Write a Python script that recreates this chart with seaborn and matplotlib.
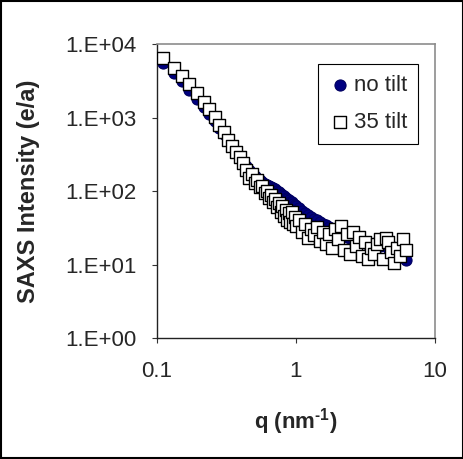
import matplotlib
matplotlib.use("Agg")
import matplotlib.pyplot as plt
import seaborn as sns
import pandas as pd
from matplotlib.patches import Rectangle

# ── data ──────────────────────────────────────────────────────────────
q = [0.111, 0.132, 0.151, 0.171, 0.195, 0.218, 0.238, 0.260, 0.281, 0.303,
     0.326, 0.348, 0.370, 0.393, 0.415, 0.437, 0.460, 0.482, 0.505, 0.527,
     0.550, 0.572, 0.595, 0.617, 0.640, 0.662, 0.685, 0.707, 0.730, 0.752,
     0.775, 0.797, 0.820, 0.842, 0.865, 0.887, 0.910, 0.932, 0.955, 0.977,
     1.00, 1.05, 1.10, 1.16, 1.22, 1.28, 1.35, 1.42, 1.49, 1.57,
     1.65, 1.73, 1.82, 1.91, 2.01, 2.11, 2.22, 2.33, 2.45, 2.57,
     2.70, 2.84, 2.98, 3.13, 3.29, 3.45, 3.63, 3.81, 4.00, 4.20,
     4.41, 4.63, 4.86, 5.11, 5.36, 5.63, 5.91, 6.20]

no_tilt = [5500, 4000, 3100, 2400, 1800, 1400, 1120, 900, 720, 590,
           480, 400, 340, 290, 250, 220, 195, 175, 160, 148,
           140, 133, 126, 121, 117, 113, 109, 105, 101, 96,
           92, 88, 85, 81, 78, 75, 72, 70, 67, 65,
           63, 58, 54, 51, 47, 45, 42, 40, 38, 36,
           34, 32, 30, 29, 27, 26, 25, 24, 23, 22.5,
           22, 21, 20, 19.5, 19, 18.5, 18, 20, 18, 21,
           19, 17, 18, 16, 15, 14, 12.5, 11.5]

tilt_35 = [6400, 4700, 3700, 2850, 2150, 1650, 1300, 1020, 790, 640,
           500, 410, 340, 290, 240, 195, 150, 170, 130, 140,
           112, 118, 95, 100, 80, 88, 70, 78, 60, 68,
           52, 62, 46, 55, 40, 50, 38, 52, 36, 45,
           33, 40, 28, 36, 23, 30, 25, 32, 21, 28,
           19, 26, 17, 30, 22, 33, 16, 26, 14, 28,
           18, 24, 13, 20, 12, 17, 14, 19, 22, 12,
           23, 20, 15, 10.5, 17, 13, 22, 16]

y_ticks = [1, 10, 100, 1000, 10000]
y_labels = ["1.E+00", "1.E+01", "1.E+02", "1.E+03", "1.E+04"]
x_ticks = [0.1, 1, 10]
x_labels = ["0.1", "1", "10"]

sns.set_theme(style="white")
plt.rcParams["font.family"] = ["Liberation Sans", "DejaVu Sans"]
plt.rcParams["mathtext.fontset"] = "custom"
plt.rcParams["mathtext.rm"] = "Liberation Sans"
plt.rcParams["mathtext.bf"] = "Liberation Sans:bold"

df_a = pd.DataFrame({"q": q, "I": no_tilt})
df_b = pd.DataFrame({"q": q, "I": tilt_35})

fig = plt.figure(figsize=(4.64, 4.59), dpi=100)
ax = fig.add_axes([0.338, 0.2636, 0.5995, 0.6404])

sns.scatterplot(data=df_a, x="q", y="I", ax=ax, marker="o", s=64,
                color="#000080", edgecolor="#000060", linewidth=0.8,
                label="no tilt", zorder=3)
sns.scatterplot(data=df_b, x="q", y="I", ax=ax, marker="s", s=72,
                color="white", edgecolor="black", linewidth=1.0,
                label="35 tilt", zorder=4)

ax.set_xscale("log")
ax.set_yscale("log")
ax.set_xlim(0.1, 10)
ax.set_ylim(1, 10000)
ax.set_xticks(x_ticks)
ax.set_xticklabels(x_labels)
ax.set_yticks(y_ticks)
ax.set_yticklabels(y_labels)
ax.minorticks_off()
ax.tick_params(axis="x", which="major", direction="out", length=3.5,
               width=0.8, color="#333333", labelsize=16, pad=13, bottom=True)
ax.tick_params(axis="y", which="major", direction="out", length=3.5,
               width=0.8, color="#333333", labelsize=16, pad=11, left=True)

for side in ["left", "bottom"]:
    ax.spines[side].set_color("#222222")
    ax.spines[side].set_linewidth(1.0)
for side in ["top", "right"]:
    ax.spines[side].set_color("#8c8c8c")
    ax.spines[side].set_linewidth(1.2)

ax.set_xlabel("q (nm$^{\\mathbf{\u2010}\\mathbf{1}}$)", fontsize=16,
              fontweight="bold")
ax.set_ylabel("SAXS Intensity (e/a)", fontsize=17, fontweight="bold")
ax.xaxis.set_label_coords(0.5, -0.23)
ax.yaxis.set_label_coords(-0.42, 0.5)

leg = ax.legend(loc="upper right", bbox_to_anchor=(0.939, 0.932),
                fontsize=16, frameon=True, fancybox=False, framealpha=1,
                edgecolor="black", borderpad=0.5, labelspacing=0.7,
                handletextpad=0.1, handlelength=1.0, borderaxespad=0)
leg.get_frame().set_linewidth(0.8)

# outer chart border
fig.patches.append(Rectangle((0.003, 0.003), 0.994, 0.994, fill=False,
                             edgecolor="black", linewidth=1.5,
                             transform=fig.transFigure, figure=fig))

plt.savefig("out.png", dpi=100)
plt.close()
